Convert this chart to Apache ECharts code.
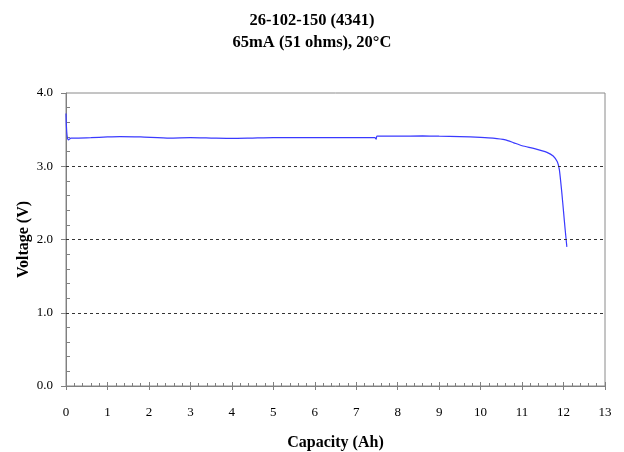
<!DOCTYPE html>
<html>
<head>
<meta charset="utf-8">
<script src="https://cdn.jsdelivr.net/npm/echarts@6/dist/echarts.min.js"></script>
<style>html,body{margin:0;padding:0;background:#fff}#c{width:624px;height:452px}</style>
</head>
<body>
<div id="c"></div>
<script>
var capacity = [0, 0.01, 0.03, 0.06, 0.12, 0.3, 0.6, 1.0, 1.3, 1.8, 2.5, 3.0, 3.5, 4.0, 4.5, 5.0, 6.0, 7.0, 7.45, 7.48, 7.5, 8.0, 8.6, 9.0, 9.5, 10.0, 10.3, 10.6, 10.8, 11.0, 11.3, 11.6, 11.75, 11.85, 11.9, 11.96, 12.0, 12.04, 12.08];
var voltage  = [3.72, 3.55, 3.40, 3.36, 3.385, 3.385, 3.39, 3.40, 3.405, 3.40, 3.385, 3.39, 3.385, 3.38, 3.385, 3.39, 3.39, 3.39, 3.39, 3.37, 3.41, 3.41, 3.415, 3.41, 3.405, 3.395, 3.385, 3.36, 3.32, 3.28, 3.24, 3.19, 3.14, 3.06, 2.95, 2.63, 2.38, 2.13, 1.90];
var gridLevels = [1, 2, 3];
var titleLines = ['26-102-150 (4341)', '65mA (51 ohms), 20\u00B0C'];

var serif = '"Liberation Serif","Times New Roman",serif';
var axisGray = '#808080';
var chart = echarts.init(document.getElementById('c'));
chart.setOption({
  animation: false,
  title: {
    text: titleLines.join('\n'),
    left: 'center',
    top: 5,
    textStyle: {fontFamily: serif, fontSize: 16.5, fontWeight: 'bold', color: '#000', lineHeight: 22}
  },
  grid: {left: 66, right: 19, top: 93, bottom: 66, containLabel: false, outerBoundsMode: 'none',
         show: true, borderColor: '#8a8a8a', borderWidth: 1},
  xAxis: [{
    type: 'value', min: 0, max: 13, interval: 1,
    name: 'Capacity (Ah)', nameLocation: 'middle', nameGap: 49,
    nameTextStyle: {fontFamily: serif, fontSize: 16, fontWeight: 'bold', color: '#000'},
    axisLine: {lineStyle: {color: axisGray, width: 1}},
    axisTick: {inside: false, length: 4, lineStyle: {color: axisGray}},
    minorTick: {show: false},
    axisLabel: {fontFamily: serif, fontSize: 13, color: '#000', margin: 20},
    splitLine: {show: false}
  }, {
    type: 'value', min: 0, max: 13, interval: 1, position: 'bottom',
    axisLine: {show: false},
    axisTick: {show: true, inside: true, length: 4, lineStyle: {color: axisGray}},
    minorTick: {show: true, splitNumber: 5, length: 3, lineStyle: {color: axisGray}},
    axisLabel: {show: false},
    splitLine: {show: false}
  }],
  yAxis: [{
    type: 'value', min: 0, max: 4, interval: 1,
    name: 'Voltage (V)', nameLocation: 'middle', nameGap: 34, nameMoveOverlap: false,
    nameTextStyle: {fontFamily: serif, fontSize: 16, fontWeight: 'bold', color: '#000'},
    axisLine: {show: true, lineStyle: {color: axisGray, width: 1}},
    axisTick: {show: true, inside: false, length: 5, lineStyle: {color: axisGray}},
    minorTick: {show: false},
    axisLabel: {fontFamily: serif, fontSize: 13, color: '#000', margin: 13, formatter: function (v) { return v.toFixed(1); }},
    splitLine: {show: false}
  }, {
    type: 'value', min: 0, max: 4, interval: 1, position: 'left',
    axisLine: {show: false},
    axisTick: {show: false, inside: true},
    minorTick: {show: true, splitNumber: 5, length: 4, lineStyle: {color: axisGray}},
    axisLabel: {show: false},
    splitLine: {show: false}
  }],
  series: [{
    type: 'line',
    data: capacity.map(function (c, i) { return [c, voltage[i]]; }),
    showSymbol: false,
    smooth: 0.2,
    lineStyle: {color: '#3a3aff', width: 1.2},
    markLine: {
      silent: true, symbol: 'none', label: {show: false},
      lineStyle: {color: '#333', type: [3, 3], width: 1},
      data: gridLevels.map(function (v) { return {yAxis: v}; })
    }
  }]
});
</script>
</body>
</html>
